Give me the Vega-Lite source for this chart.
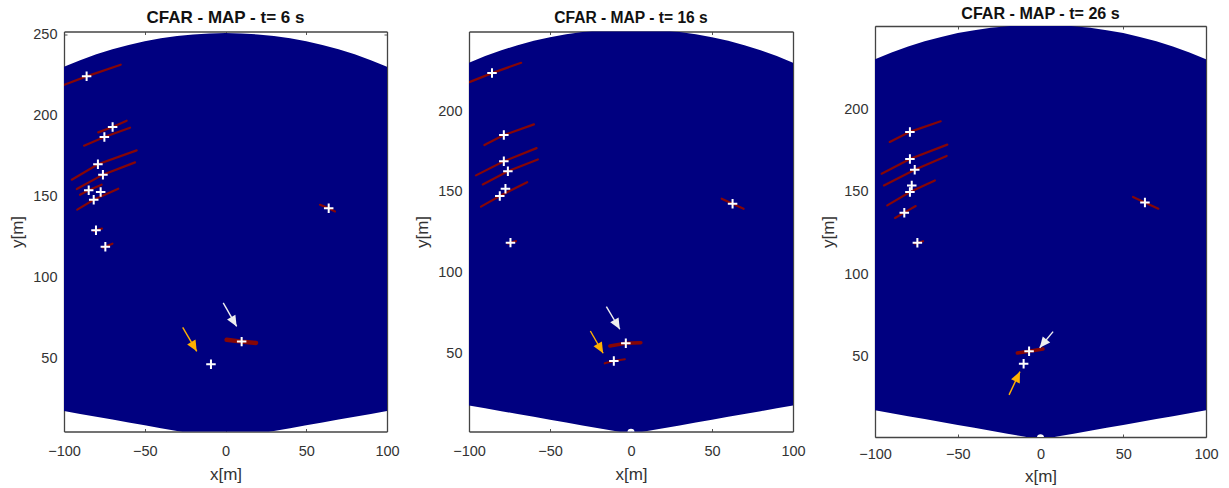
{
  "$schema": "https://vega.github.io/schema/vega-lite/v6.json",
  "background": "white",
  "padding": {"left": 8, "top": 6, "right": 5, "bottom": 2},
  "bounds": "flush",
  "center": true,
  "spacing": 82,
  "config": {
    "view": {"stroke": null},
    "axis": {"grid": false, "labelFlush": false, "labelOverlap": false, "tickSize": -3, "tickColor": "#555", "tickWidth": 1, "domainColor": "#444", "domainWidth": 1.3, "labelFont": "Liberation Sans", "labelFontSize": 14.5, "labelColor": "#333", "titleFont": "Liberation Sans", "titleFontSize": 17, "titleFontWeight": "normal", "titleColor": "#333", "zindex": 1},
    "axisX": {"labelPadding": 16, "titlePadding": 8},
    "axisY": {"labelPadding": 10, "titlePadding": 6},
    "title": {"font": "Liberation Sans", "fontWeight": "bold", "color": "#111", "anchor": "middle", "baseline": "alphabetic"}
  },
  "datasets": {
    "fov": [
      {"x": -100, "lo": 17.63, "hi": 230.2}, {"x": -90, "lo": 15.87, "hi": 234.3}, {"x": -80, "lo": 14.11, "hi": 237.9}, {"x": -70, "lo": 12.34, "hi": 241.0}, {"x": -60, "lo": 10.58, "hi": 243.7}, {"x": -50, "lo": 8.82, "hi": 246.0}, {"x": -40, "lo": 7.05, "hi": 247.8}, {"x": -30, "lo": 5.29, "hi": 249.2}, {"x": -20, "lo": 3.53, "hi": 250.2}, {"x": -10, "lo": 1.76, "hi": 250.8}, {"x": 0, "lo": 0, "hi": 251.0},
      {"x": 10, "lo": 1.76, "hi": 250.8}, {"x": 20, "lo": 3.53, "hi": 250.2}, {"x": 30, "lo": 5.29, "hi": 249.2}, {"x": 40, "lo": 7.05, "hi": 247.8}, {"x": 50, "lo": 8.82, "hi": 246.0}, {"x": 60, "lo": 10.58, "hi": 243.7}, {"x": 70, "lo": 12.34, "hi": 241.0}, {"x": 80, "lo": 14.11, "hi": 237.9}, {"x": 90, "lo": 15.87, "hi": 234.3}, {"x": 100, "lo": 17.63, "hi": 230.2}
    ],
    "ego": [{"x": 0, "y": 1}],
    "det": [
      {"t": 6, "x": -86, "y": 224.3}, {"t": 6, "x": -69.9, "y": 193}, {"t": 6, "x": -75, "y": 186.8}, {"t": 6, "x": -79, "y": 170}, {"t": 6, "x": -75.9, "y": 163.6}, {"t": 6, "x": -84.7, "y": 153.9}, {"t": 6, "x": -77.3, "y": 152.9}, {"t": 6, "x": -81.6, "y": 148.1}, {"t": 6, "x": -80.2, "y": 129.2}, {"t": 6, "x": -74.4, "y": 119.1}, {"t": 6, "x": 63.9, "y": 142.8}, {"t": 6, "x": 10, "y": 60.5}, {"t": 6, "x": -9, "y": 46.5},
      {"t": 16, "x": -85.8, "y": 223.7}, {"t": 16, "x": -78.5, "y": 185.3}, {"t": 16, "x": -78.5, "y": 169}, {"t": 16, "x": -76, "y": 162.8}, {"t": 16, "x": -77.5, "y": 152}, {"t": 16, "x": -81, "y": 147.5}, {"t": 16, "x": -74.4, "y": 118.6}, {"t": 16, "x": 62.7, "y": 142.7}, {"t": 16, "x": -3.2, "y": 56.2}, {"t": 16, "x": -10.6, "y": 45.2},
      {"t": 26, "x": -78.9, "y": 186.2}, {"t": 26, "x": -78.9, "y": 169.8}, {"t": 26, "x": -76, "y": 163.3}, {"t": 26, "x": -77.8, "y": 153.8}, {"t": 26, "x": -78.9, "y": 149.8}, {"t": 26, "x": -82.3, "y": 137.3}, {"t": 26, "x": -74.4, "y": 119.1}, {"t": 26, "x": 63.1, "y": 143.5}, {"t": 26, "x": -6.9, "y": 53.4}, {"t": 26, "x": -10.2, "y": 45.9}
    ],
    "streak": [
      {"t": 6, "id": "a", "x": -99.8, "y": 219.1}, {"t": 6, "id": "a", "x": -86, "y": 224.3}, {"t": 6, "id": "a", "x": -64.9, "y": 231.5},
      {"t": 6, "id": "b", "x": -78.8, "y": 189.7}, {"t": 6, "id": "b", "x": -69.9, "y": 193}, {"t": 6, "id": "b", "x": -61.2, "y": 196.9},
      {"t": 6, "id": "c", "x": -87.6, "y": 181.5}, {"t": 6, "id": "c", "x": -75, "y": 186.8}, {"t": 6, "id": "c", "x": -59.1, "y": 192.6},
      {"t": 6, "id": "d", "x": -95.2, "y": 160.5}, {"t": 6, "id": "d", "x": -79, "y": 170}, {"t": 6, "id": "d", "x": -55, "y": 178.6},
      {"t": 6, "id": "e", "x": -92.1, "y": 154.7}, {"t": 6, "id": "e", "x": -75.9, "y": 163.6}, {"t": 6, "id": "e", "x": -56, "y": 171.2},
      {"t": 6, "id": "f", "x": -90.1, "y": 151.2}, {"t": 6, "id": "f", "x": -84.7, "y": 153.9}, {"t": 6, "id": "f", "x": -76.7, "y": 157.4},
      {"t": 6, "id": "g", "x": -91.8, "y": 142}, {"t": 6, "id": "g", "x": -81.6, "y": 148.1}, {"t": 6, "id": "g", "x": -66.4, "y": 154.9},
      {"t": 6, "id": "h", "x": -81.5, "y": 128.8}, {"t": 6, "id": "h", "x": -76.5, "y": 130.3},
      {"t": 6, "id": "i", "x": -76, "y": 118.5}, {"t": 6, "id": "i", "x": -70, "y": 121},
      {"t": 6, "id": "j", "x": 58.5, "y": 145}, {"t": 6, "id": "j", "x": 63.9, "y": 142.8}, {"t": 6, "id": "j", "x": 67.8, "y": 140.9},
      {"t": 6, "id": "k", "x": 0.7, "y": 61.7}, {"t": 6, "id": "k", "x": 10, "y": 60.5}, {"t": 6, "id": "k", "x": 18.9, "y": 59.7},
      {"t": 16, "id": "a", "x": -99.8, "y": 218.1}, {"t": 16, "id": "a", "x": -85.8, "y": 223.7}, {"t": 16, "id": "a", "x": -67.8, "y": 230.1},
      {"t": 16, "id": "b", "x": -90.5, "y": 179.1}, {"t": 16, "id": "b", "x": -78.5, "y": 185.3}, {"t": 16, "id": "b", "x": -59.9, "y": 191.9},
      {"t": 16, "id": "c", "x": -95.7, "y": 160.3}, {"t": 16, "id": "c", "x": -78.5, "y": 169}, {"t": 16, "id": "c", "x": -58.3, "y": 177.2},
      {"t": 16, "id": "d", "x": -91.5, "y": 154.7}, {"t": 16, "id": "d", "x": -76, "y": 162.8}, {"t": 16, "id": "d", "x": -57.5, "y": 170.2},
      {"t": 16, "id": "e", "x": -92.6, "y": 140.9}, {"t": 16, "id": "e", "x": -81, "y": 147.5}, {"t": 16, "id": "e", "x": -64.1, "y": 156.1},
      {"t": 16, "id": "f", "x": -76, "y": 118}, {"t": 16, "id": "f", "x": -71, "y": 119.5},
      {"t": 16, "id": "g", "x": 56, "y": 145.8}, {"t": 16, "id": "g", "x": 62.7, "y": 142.7}, {"t": 16, "id": "g", "x": 69.5, "y": 139.6},
      {"t": 16, "id": "h", "x": -13.1, "y": 54.5}, {"t": 16, "id": "h", "x": -3.2, "y": 56.2}, {"t": 16, "id": "h", "x": 6.1, "y": 56.6},
      {"t": 16, "id": "i", "x": -16.2, "y": 43.8}, {"t": 16, "id": "i", "x": -10.6, "y": 45.2}, {"t": 16, "id": "i", "x": -3.8, "y": 46.3},
      {"t": 26, "id": "a", "x": -91.1, "y": 180.1}, {"t": 26, "id": "a", "x": -78.9, "y": 186.2}, {"t": 26, "id": "a", "x": -60.3, "y": 192.6},
      {"t": 26, "id": "b", "x": -96, "y": 160.9}, {"t": 26, "id": "b", "x": -78.9, "y": 169.8}, {"t": 26, "id": "b", "x": -56.3, "y": 178.5},
      {"t": 26, "id": "c", "x": -94.6, "y": 153.8}, {"t": 26, "id": "c", "x": -76, "y": 163.3}, {"t": 26, "id": "c", "x": -56.7, "y": 171.6},
      {"t": 26, "id": "d", "x": -92.6, "y": 141.7}, {"t": 26, "id": "d", "x": -78.9, "y": 149.8}, {"t": 26, "id": "d", "x": -63.8, "y": 156.8},
      {"t": 26, "id": "e", "x": -87.9, "y": 134.1}, {"t": 26, "id": "e", "x": -82.3, "y": 137.3}, {"t": 26, "id": "e", "x": -75.4, "y": 141.3},
      {"t": 26, "id": "f", "x": -76, "y": 118.5}, {"t": 26, "id": "f", "x": -71, "y": 120},
      {"t": 26, "id": "g", "x": 55.9, "y": 146.8}, {"t": 26, "id": "g", "x": 63.1, "y": 143.5}, {"t": 26, "id": "g", "x": 71.2, "y": 139.7},
      {"t": 26, "id": "h", "x": -14, "y": 52.4}, {"t": 26, "id": "h", "x": -6.9, "y": 53.4}, {"t": 26, "id": "h", "x": 1.5, "y": 54.8}
    ],
    "arrow": [
      {"t": 6, "arrow": "A", "x": -1.4, "y": 84.4, "x2": 6.9, "y2": 69.9},
      {"t": 6, "arrow": "B", "x": -26.5, "y": 69.3, "x2": -17.8, "y2": 54.5},
      {"t": 16, "arrow": "A", "x": -15.2, "y": 78.9, "x2": -6.9, "y2": 64.9},
      {"t": 16, "arrow": "B", "x": -25.1, "y": 63.8, "x2": -17.2, "y2": 50},
      {"t": 26, "arrow": "A", "x": 7.6, "y": 65.3, "x2": -0.5, "y2": 55.5},
      {"t": 26, "arrow": "B", "x": -19, "y": 27, "x2": -12.4, "y2": 41.1}
    ]
  },
  "hconcat": [
    {
      "width": 323, "height": 400,
      "title": {"text": "CFAR - MAP - t= 6 s", "fontSize": 17, "offset": 0},
      "resolve": {"axis": {"x": "independent", "y": "independent"}},
      "layer": [
        {"data": {"name": "fov"}, "mark": {"type": "area", "color": "#000080", "clip": true, "interpolate": "linear"},
         "encoding": {
           "x": {"field": "x", "type": "quantitative", "scale": {"domain": [-100, 100], "nice": false, "zero": false}, "axis": {"orient": "bottom", "values": [-100, -50, 0, 50, 100], "title": "x[m]"}},
           "y": {"field": "lo", "type": "quantitative", "scale": {"domain": [5, 252], "nice": false, "zero": false}, "axis": {"orient": "left", "values": [50, 100, 150, 200, 250], "title": "y[m]"}},
           "y2": {"field": "hi"}}},
        {"data": {"name": "streak"}, "transform": [{"filter": "datum.t == 6"}], "mark": {"type": "line", "color": "#860606", "strokeWidth": 2.2, "strokeCap": "round", "clip": true},
         "encoding": {
           "x": {"field": "x", "type": "quantitative", "scale": {"domain": [-100, 100], "nice": false, "zero": false}, "axis": null},
           "y": {"field": "y", "type": "quantitative", "scale": {"domain": [5, 252], "nice": false, "zero": false}, "axis": null},
           "detail": {"field": "id"}}},
        {"data": {"name": "streak"}, "transform": [{"filter": "datum.t == 6 && datum.id == 'k'"}], "mark": {"type": "line", "color": "#860606", "strokeWidth": 4.5, "strokeCap": "round", "clip": true},
         "encoding": {
           "x": {"field": "x", "type": "quantitative", "scale": {"domain": [-100, 100], "nice": false, "zero": false}, "axis": null},
           "y": {"field": "y", "type": "quantitative", "scale": {"domain": [5, 252], "nice": false, "zero": false}, "axis": null}}},
        {"data": {"name": "arrow"}, "transform": [{"filter": "datum.t == 6"}], "mark": {"type": "rule", "strokeWidth": 1.4},
         "encoding": {
           "x": {"field": "x", "type": "quantitative", "scale": {"domain": [-100, 100], "nice": false, "zero": false}, "axis": null},
           "y": {"field": "y", "type": "quantitative", "scale": {"domain": [5, 252], "nice": false, "zero": false}, "axis": null},
           "x2": {"field": "x2"}, "y2": {"field": "y2"},
           "color": {"field": "arrow", "type": "nominal", "scale": {"domain": ["A", "B"], "range": ["#eeeeee", "#ffb000"]}, "legend": null}}},
        {"data": {"name": "arrow"}, "transform": [{"filter": "datum.t == 6"}], "mark": {"type": "point", "shape": "M0,0L0.8,1.8L-0.8,1.8Z", "filled": true, "size": 144, "angle": 150, "opacity": 1},
         "encoding": {
           "x": {"field": "x2", "type": "quantitative", "scale": {"domain": [-100, 100], "nice": false, "zero": false}, "axis": null},
           "y": {"field": "y2", "type": "quantitative", "scale": {"domain": [5, 252], "nice": false, "zero": false}, "axis": null},
           "color": {"field": "arrow", "type": "nominal", "scale": {"domain": ["A", "B"], "range": ["#eeeeee", "#ffb000"]}, "legend": null}}},
        {"data": {"name": "ego"}, "mark": {"type": "point", "shape": "circle", "filled": true, "color": "white", "size": 50, "opacity": 1, "clip": true},
         "encoding": {
           "x": {"field": "x", "type": "quantitative", "scale": {"domain": [-100, 100], "nice": false, "zero": false}, "axis": null},
           "y": {"field": "y", "type": "quantitative", "scale": {"domain": [5, 252], "nice": false, "zero": false}, "axis": null}}},
        {"data": {"name": "det"}, "transform": [{"filter": "datum.t == 6"}], "mark": {"type": "point", "shape": "M-1,0L1,0M0,-1L0,1", "filled": false, "stroke": "white", "strokeWidth": 2, "size": 90, "opacity": 1},
         "encoding": {
           "x": {"field": "x", "type": "quantitative", "scale": {"domain": [-100, 100], "nice": false, "zero": false}, "axis": {"orient": "top", "values": [-100, -50, 0, 50, 100], "labels": false, "title": null}},
           "y": {"field": "y", "type": "quantitative", "scale": {"domain": [5, 252], "nice": false, "zero": false}, "axis": {"orient": "right", "values": [50, 100, 150, 200, 250], "labels": false, "title": null}}}}
      ]
    },
    {
      "width": 324, "height": 400,
      "title": {"text": "CFAR - MAP - t= 16 s", "fontSize": 15.6, "offset": 4},
      "resolve": {"axis": {"x": "independent", "y": "independent"}},
      "layer": [
        {"data": {"name": "fov"}, "mark": {"type": "area", "color": "#000080", "clip": true, "interpolate": "linear"},
         "encoding": {
           "x": {"field": "x", "type": "quantitative", "scale": {"domain": [-100, 100], "nice": false, "zero": false}, "axis": {"orient": "bottom", "values": [-100, -50, 0, 50, 100], "title": "x[m]"}},
           "y": {"field": "lo", "type": "quantitative", "scale": {"domain": [1.5, 249.5], "nice": false, "zero": false}, "axis": {"orient": "left", "values": [50, 100, 150, 200], "title": "y[m]"}},
           "y2": {"field": "hi"}}},
        {"data": {"name": "streak"}, "transform": [{"filter": "datum.t == 16"}], "mark": {"type": "line", "color": "#860606", "strokeWidth": 2.2, "strokeCap": "round", "clip": true},
         "encoding": {
           "x": {"field": "x", "type": "quantitative", "scale": {"domain": [-100, 100], "nice": false, "zero": false}, "axis": null},
           "y": {"field": "y", "type": "quantitative", "scale": {"domain": [1.5, 249.5], "nice": false, "zero": false}, "axis": null},
           "detail": {"field": "id"}}},
        {"data": {"name": "streak"}, "transform": [{"filter": "datum.t == 16 && datum.id == 'h'"}], "mark": {"type": "line", "color": "#860606", "strokeWidth": 3.5, "strokeCap": "round", "clip": true},
         "encoding": {
           "x": {"field": "x", "type": "quantitative", "scale": {"domain": [-100, 100], "nice": false, "zero": false}, "axis": null},
           "y": {"field": "y", "type": "quantitative", "scale": {"domain": [1.5, 249.5], "nice": false, "zero": false}, "axis": null}}},
        {"data": {"name": "arrow"}, "transform": [{"filter": "datum.t == 16"}], "mark": {"type": "rule", "strokeWidth": 1.4},
         "encoding": {
           "x": {"field": "x", "type": "quantitative", "scale": {"domain": [-100, 100], "nice": false, "zero": false}, "axis": null},
           "y": {"field": "y", "type": "quantitative", "scale": {"domain": [1.5, 249.5], "nice": false, "zero": false}, "axis": null},
           "x2": {"field": "x2"}, "y2": {"field": "y2"},
           "color": {"field": "arrow", "type": "nominal", "scale": {"domain": ["A", "B"], "range": ["#eeeeee", "#ffb000"]}, "legend": null}}},
        {"data": {"name": "arrow"}, "transform": [{"filter": "datum.t == 16"}], "mark": {"type": "point", "shape": "M0,0L0.8,1.8L-0.8,1.8Z", "filled": true, "size": 144, "angle": 150, "opacity": 1},
         "encoding": {
           "x": {"field": "x2", "type": "quantitative", "scale": {"domain": [-100, 100], "nice": false, "zero": false}, "axis": null},
           "y": {"field": "y2", "type": "quantitative", "scale": {"domain": [1.5, 249.5], "nice": false, "zero": false}, "axis": null},
           "color": {"field": "arrow", "type": "nominal", "scale": {"domain": ["A", "B"], "range": ["#eeeeee", "#ffb000"]}, "legend": null}}},
        {"data": {"name": "ego"}, "mark": {"type": "point", "shape": "circle", "filled": true, "color": "white", "size": 50, "opacity": 1, "clip": true},
         "encoding": {
           "x": {"field": "x", "type": "quantitative", "scale": {"domain": [-100, 100], "nice": false, "zero": false}, "axis": null},
           "y": {"field": "y", "type": "quantitative", "scale": {"domain": [1.5, 249.5], "nice": false, "zero": false}, "axis": null}}},
        {"data": {"name": "det"}, "transform": [{"filter": "datum.t == 16"}], "mark": {"type": "point", "shape": "M-1,0L1,0M0,-1L0,1", "filled": false, "stroke": "white", "strokeWidth": 2, "size": 90, "opacity": 1},
         "encoding": {
           "x": {"field": "x", "type": "quantitative", "scale": {"domain": [-100, 100], "nice": false, "zero": false}, "axis": {"orient": "top", "values": [-100, -50, 0, 50, 100], "labels": false, "title": null}},
           "y": {"field": "y", "type": "quantitative", "scale": {"domain": [1.5, 249.5], "nice": false, "zero": false}, "axis": {"orient": "right", "values": [50, 100, 150, 200], "labels": false, "title": null}}}}
      ]
    },
    {
      "width": 331, "height": 411,
      "title": {"text": "CFAR - MAP - t= 26 s", "fontSize": 16.1, "offset": 3},
      "resolve": {"axis": {"x": "independent", "y": "independent"}},
      "layer": [
        {"data": {"name": "fov"}, "mark": {"type": "area", "color": "#000080", "clip": true, "interpolate": "linear"},
         "encoding": {
           "x": {"field": "x", "type": "quantitative", "scale": {"domain": [-100, 100], "nice": false, "zero": false}, "axis": {"orient": "bottom", "values": [-100, -50, 0, 50, 100], "title": "x[m]", "labelPadding": 13.5, "titlePadding": 7}},
           "y": {"field": "lo", "type": "quantitative", "scale": {"domain": [1.5, 250.3], "nice": false, "zero": false}, "axis": {"orient": "left", "values": [50, 100, 150, 200], "title": "y[m]"}},
           "y2": {"field": "hi"}}},
        {"data": {"name": "streak"}, "transform": [{"filter": "datum.t == 26"}], "mark": {"type": "line", "color": "#860606", "strokeWidth": 2.2, "strokeCap": "round", "clip": true},
         "encoding": {
           "x": {"field": "x", "type": "quantitative", "scale": {"domain": [-100, 100], "nice": false, "zero": false}, "axis": null},
           "y": {"field": "y", "type": "quantitative", "scale": {"domain": [1.5, 250.3], "nice": false, "zero": false}, "axis": null},
           "detail": {"field": "id"}}},
        {"data": {"name": "streak"}, "transform": [{"filter": "datum.t == 26 && datum.id == 'h'"}], "mark": {"type": "line", "color": "#860606", "strokeWidth": 3.5, "strokeCap": "round", "clip": true},
         "encoding": {
           "x": {"field": "x", "type": "quantitative", "scale": {"domain": [-100, 100], "nice": false, "zero": false}, "axis": null},
           "y": {"field": "y", "type": "quantitative", "scale": {"domain": [1.5, 250.3], "nice": false, "zero": false}, "axis": null}}},
        {"data": {"name": "arrow"}, "transform": [{"filter": "datum.t == 26"}], "mark": {"type": "rule", "strokeWidth": 1.4},
         "encoding": {
           "x": {"field": "x", "type": "quantitative", "scale": {"domain": [-100, 100], "nice": false, "zero": false}, "axis": null},
           "y": {"field": "y", "type": "quantitative", "scale": {"domain": [1.5, 250.3], "nice": false, "zero": false}, "axis": null},
           "x2": {"field": "x2"}, "y2": {"field": "y2"},
           "color": {"field": "arrow", "type": "nominal", "scale": {"domain": ["A", "B"], "range": ["#eeeeee", "#ffb000"]}, "legend": null}}},
        {"data": {"name": "arrow"}, "transform": [{"filter": "datum.t == 26 && datum.arrow == 'A'"}], "mark": {"type": "point", "shape": "M0,0L0.8,1.8L-0.8,1.8Z", "filled": true, "size": 144, "angle": 219, "opacity": 1},
         "encoding": {
           "x": {"field": "x2", "type": "quantitative", "scale": {"domain": [-100, 100], "nice": false, "zero": false}, "axis": null},
           "y": {"field": "y2", "type": "quantitative", "scale": {"domain": [1.5, 250.3], "nice": false, "zero": false}, "axis": null},
           "color": {"field": "arrow", "type": "nominal", "scale": {"domain": ["A", "B"], "range": ["#eeeeee", "#ffb000"]}, "legend": null}}},
        {"data": {"name": "arrow"}, "transform": [{"filter": "datum.t == 26 && datum.arrow == 'B'"}], "mark": {"type": "point", "shape": "M0,0L0.8,1.8L-0.8,1.8Z", "filled": true, "size": 144, "angle": 25, "opacity": 1},
         "encoding": {
           "x": {"field": "x2", "type": "quantitative", "scale": {"domain": [-100, 100], "nice": false, "zero": false}, "axis": null},
           "y": {"field": "y2", "type": "quantitative", "scale": {"domain": [1.5, 250.3], "nice": false, "zero": false}, "axis": null},
           "color": {"field": "arrow", "type": "nominal", "scale": {"domain": ["A", "B"], "range": ["#eeeeee", "#ffb000"]}, "legend": null}}},
        {"data": {"name": "ego"}, "mark": {"type": "point", "shape": "circle", "filled": true, "color": "white", "size": 50, "opacity": 1, "clip": true},
         "encoding": {
           "x": {"field": "x", "type": "quantitative", "scale": {"domain": [-100, 100], "nice": false, "zero": false}, "axis": null},
           "y": {"field": "y", "type": "quantitative", "scale": {"domain": [1.5, 250.3], "nice": false, "zero": false}, "axis": null}}},
        {"data": {"name": "det"}, "transform": [{"filter": "datum.t == 26"}], "mark": {"type": "point", "shape": "M-1,0L1,0M0,-1L0,1", "filled": false, "stroke": "white", "strokeWidth": 2, "size": 90, "opacity": 1},
         "encoding": {
           "x": {"field": "x", "type": "quantitative", "scale": {"domain": [-100, 100], "nice": false, "zero": false}, "axis": {"orient": "top", "values": [-100, -50, 0, 50, 100], "labels": false, "title": null}},
           "y": {"field": "y", "type": "quantitative", "scale": {"domain": [1.5, 250.3], "nice": false, "zero": false}, "axis": {"orient": "right", "values": [50, 100, 150, 200], "labels": false, "title": null}}}}
      ]
    }
  ]
}
